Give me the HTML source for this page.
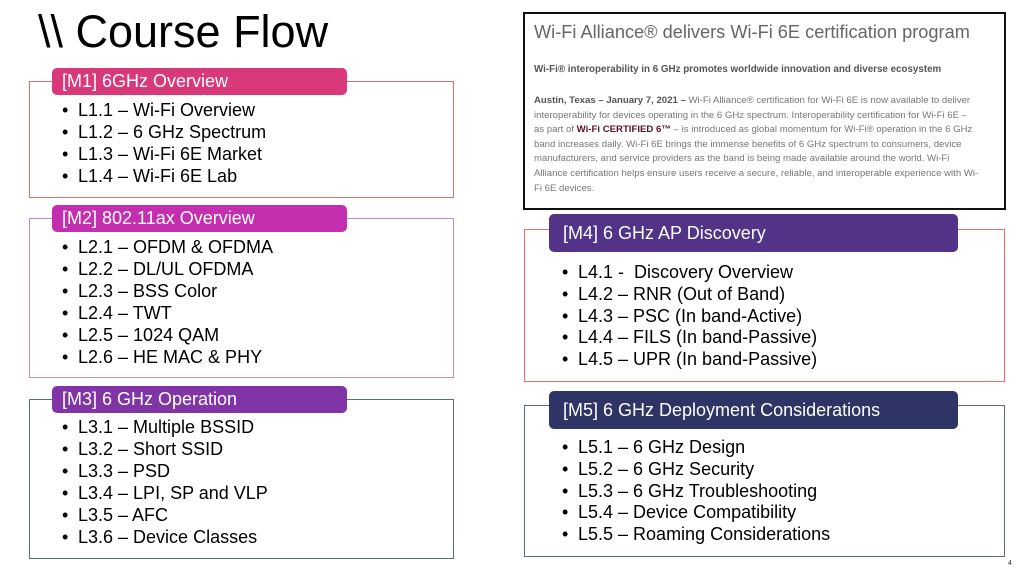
<!DOCTYPE html>
<html><head><meta charset="utf-8"><style>
body{margin:0;width:1022px;height:570px;background:#fff;position:relative;overflow:hidden;font-family:"Liberation Sans",Arial,sans-serif}
.a{position:absolute}
.box{position:absolute;box-sizing:border-box;border:1.5px solid}
.hd{position:absolute;box-sizing:border-box;color:#fff;font-size:18px;border-radius:5px;padding-left:10px;display:flex;align-items:center;white-space:nowrap}
.it{position:absolute;font-size:18px;color:#000;white-space:nowrap;line-height:22px}
.it span{display:inline-block;width:16px}
.n{position:absolute;left:534px;font-size:9.6px;color:#777;white-space:nowrap}
</style></head><body>
<div class="a" style="left:38px;top:6px;font-size:45px;color:#000">\\ Course Flow</div>

<div class="box" style="left:29px;top:81px;width:425px;height:117px;border-color:#ea6a6a"></div>
<div class="hd" style="left:52px;top:68px;width:295px;height:27px;background:#d9397b">[M1] 6GHz Overview</div>
<div class="it" style="left:62px;top:99px"><span>•</span>L1.1 – Wi-Fi Overview<br><span>•</span>L1.2 – 6 GHz Spectrum<br><span>•</span>L1.3 – Wi-Fi 6E Market<br><span>•</span>L1.4 – Wi-Fi 6E Lab</div>

<div class="box" style="left:29px;top:218px;width:425px;height:160px;border-color:#bb8ed8"></div>
<div class="hd" style="left:52px;top:205px;width:295px;height:27px;background:#c32fae">[M2] 802.11ax Overview</div>
<div class="it" style="left:62px;top:236px"><span>•</span>L2.1 – OFDM &amp; OFDMA<br><span>•</span>L2.2 – DL/UL OFDMA<br><span>•</span>L2.3 – BSS Color<br><span>•</span>L2.4 – TWT<br><span>•</span>L2.5 – 1024 QAM<br><span>•</span>L2.6 – HE MAC &amp; PHY</div>

<div class="box" style="left:29px;top:399px;width:425px;height:160px;border-color:#5d6b7a"></div>
<div class="hd" style="left:52px;top:386px;width:295px;height:27px;background:#8034a6">[M3] 6 GHz Operation</div>
<div class="it" style="left:62px;top:416px"><span>•</span>L3.1 – Multiple BSSID<br><span>•</span>L3.2 – Short SSID<br><span>•</span>L3.3 – PSD<br><span>•</span>L3.4 – LPI, SP and VLP<br><span>•</span>L3.5 – AFC<br><span>•</span>L3.6 – Device Classes</div>

<div class="box" style="left:523px;top:12px;width:483px;height:198px;border:2px solid #111"></div>
<div class="a" style="left:534px;top:22px;font-size:18.2px;color:#666">Wi-Fi Alliance® delivers Wi-Fi 6E certification program</div>
<div class="n" style="top:64px;font-weight:bold;color:#555;font-size:9.8px">Wi-Fi® interoperability in 6 GHz promotes worldwide innovation and diverse ecosystem</div>
<div class="n" style="top:94px;line-height:14.6px"><b style="color:#555">Austin, Texas – January 7, 2021 –</b> Wi-Fi Alliance® certification for Wi-Fi 6E is now available to deliver<br>interoperability for devices operating in the 6 GHz spectrum. Interoperability certification for Wi-Fi 6E –<br>as part of <b style="color:#5a1030">Wi-Fi CERTIFIED 6™</b> – is introduced as global momentum for Wi-Fi® operation in the 6 GHz<br>band increases daily. Wi-Fi 6E brings the immense benefits of 6 GHz spectrum to consumers, device<br>manufacturers, and service providers as the band is being made available around the world. Wi-Fi<br>Alliance certification helps ensure users receive a secure, reliable, and interoperable experience with Wi-<br>Fi 6E devices.</div>

<div class="box" style="left:524px;top:229px;width:481px;height:153px;border-color:#ea6a6a"></div>
<div class="hd" style="left:549px;top:214px;width:409px;height:38px;background:#523387;padding-left:14px">[M4] 6 GHz AP Discovery</div>
<div class="it" style="left:562px;top:262px;line-height:21.8px"><span>•</span>L4.1 -&nbsp; Discovery Overview<br><span>•</span>L4.2 – RNR (Out of Band)<br><span>•</span>L4.3 – PSC (In band-Active)<br><span>•</span>L4.4 – FILS (In band-Passive)<br><span>•</span>L4.5 – UPR (In band-Passive)</div>

<div class="box" style="left:524px;top:405px;width:481px;height:152px;border-color:#5d6b7a"></div>
<div class="hd" style="left:549px;top:391px;width:409px;height:38px;background:#2f3467;padding-left:14px">[M5] 6 GHz Deployment Considerations</div>
<div class="it" style="left:562px;top:437px;line-height:21.8px"><span>•</span>L5.1 – 6 GHz Design<br><span>•</span>L5.2 – 6 GHz Security<br><span>•</span>L5.3 – 6 GHz Troubleshooting<br><span>•</span>L5.4 – Device Compatibility<br><span>•</span>L5.5 – Roaming Considerations</div>
<div class="a" style="left:1008px;top:560px;font-size:7px;color:#333">4</div>
</body></html>
